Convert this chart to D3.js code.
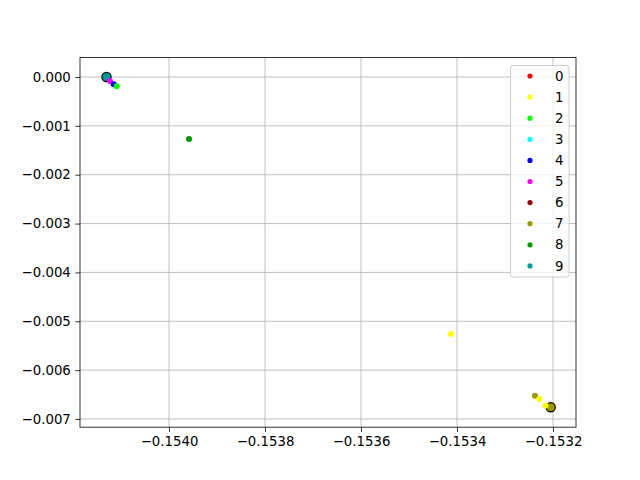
<!DOCTYPE html>
<html>
<head>
<meta charset="utf-8">
<script src="https://cdn.jsdelivr.net/npm/d3@7"></script>
<style>
  body { margin: 0; background: #fff; }
  svg { font-family: "DejaVu Sans", sans-serif; }
</style>
</head>
<body>
<script>
// class labels + colours
const labels = ["0", "1", "2", "3", "4", "5", "6", "7", "8", "9"];
const colors = ["#ff0000", "#ffff00", "#00ff00", "#00ffff", "#0000ff",
                "#ff00ff", "#990000", "#999900", "#009900", "#009999"];

// points (label, x, y)
const ptLabel = [0, 3, 6, 2, 5, 4, 2, 8, 1, 7, 1, 1, 6, 7];
const ptX = [-0.15413021, -0.15413021, -0.15413021, -0.15413021, -0.15412292, -0.15411521, -0.15410896,
             -0.15395833, -0.15341250, -0.15323750, -0.15322854, -0.15321563, -0.15320479, -0.15320479];
const ptY = [0.0, 0.0, 0.0, 0.0, -0.000082, -0.000149, -0.000190,
             -0.001269, -0.005260, -0.006523, -0.006590, -0.006723, -0.006760, -0.006760];

// cluster centres (drawn with black edge)
const cenLabel = [9, 7];
const cenX = [-0.15413021, -0.15320479];
const cenY = [0.0, -0.006760];

const xTicks = [-0.1540, -0.1538, -0.1536, -0.1534, -0.1532];
const yTicks = [0.000, -0.001, -0.002, -0.003, -0.004, -0.005, -0.006, -0.007];

const W = 640, H = 480;
const m = { left: 80, right: 64, top: 57.6, bottom: 52.8 };

const svg = d3.select("body").append("svg").attr("width", W).attr("height", H);

const x = d3.scaleLinear().domain([-0.15418542, -0.15315208]).range([m.left, W - m.right]);
const y = d3.scaleLinear().domain([0.000397, -0.007168]).range([m.top, H - m.bottom]);

const minus = (s) => s.replace("-", "\u2212");

// grid
svg.append("g").selectAll("line").data(xTicks).join("line")
  .attr("x1", d => x(d)).attr("x2", d => x(d))
  .attr("y1", m.top).attr("y2", H - m.bottom)
  .attr("stroke", "#b0b0b0").attr("stroke-width", 0.8);
svg.append("g").selectAll("line").data(yTicks).join("line")
  .attr("y1", d => y(d)).attr("y2", d => y(d))
  .attr("x1", m.left).attr("x2", W - m.right)
  .attr("stroke", "#b0b0b0").attr("stroke-width", 0.8);

// axes
const xAxis = svg.append("g").attr("transform", `translate(0,${H - m.bottom})`)
  .call(d3.axisBottom(x).tickValues(xTicks).tickSize(4.7).tickPadding(4.5)
    .tickFormat(d => minus(d3.format(".4f")(d))));
const yAxis = svg.append("g").attr("transform", `translate(${m.left},0)`)
  .call(d3.axisLeft(y).tickValues(yTicks).tickSize(4.7).tickPadding(4.5)
    .tickFormat(d => minus(d3.format(".3f")(d))));
[xAxis, yAxis].forEach(g => {
  g.select(".domain").remove();
  g.selectAll("text").attr("font-size", 13.3).attr("fill", "#000")
    .attr("font-family", "DejaVu Sans");
  g.selectAll("line").attr("stroke", "#000").attr("stroke-width", 0.8);
});

// points sitting under a centre go first, the rest on top of the centres
const idx = d3.range(ptX.length);
const underCentre = i => cenX.some((cx, k) => cx === ptX[i] && cenY[k] === ptY[i]);

const drawPts = (sel) => sel
  .attr("cx", i => x(ptX[i])).attr("cy", i => y(ptY[i])).attr("r", 3)
  .attr("fill", i => colors[ptLabel[i]]);

svg.append("g").selectAll("circle").data(idx.filter(underCentre)).join("circle").call(drawPts);

svg.append("g").selectAll("circle").data(d3.range(cenX.length)).join("circle")
  .attr("cx", i => x(cenX[i])).attr("cy", i => y(cenY[i])).attr("r", 4.6)
  .attr("fill", i => colors[cenLabel[i]])
  .attr("stroke", "#000").attr("stroke-width", 1.2);

svg.append("g").selectAll("circle").data(idx.filter(i => !underCentre(i))).join("circle").call(drawPts);

// frame
svg.append("rect")
  .attr("x", m.left).attr("y", m.top)
  .attr("width", W - m.left - m.right).attr("height", H - m.top - m.bottom)
  .attr("fill", "none").attr("stroke", "#000").attr("stroke-width", 0.8);

// legend
const lg = svg.append("g");
lg.append("rect")
  .attr("x", 510.5).attr("y", 65.5).attr("width", 58.5).attr("height", 211.5)
  .attr("rx", 2.5).attr("fill", "#fff").attr("fill-opacity", 0.8)
  .attr("stroke", "#cccccc").attr("stroke-width", 1);
labels.forEach((lab, i) => {
  const yy = 76 + i * 21.1;
  lg.append("circle").attr("cx", 530).attr("cy", yy).attr("r", 2.6).attr("fill", colors[i]);
  lg.append("text").attr("x", 555).attr("y", yy).attr("dy", "0.35em")
    .attr("font-size", 13.3).attr("fill", "#000").text(lab);
});
</script>
</body>
</html>
